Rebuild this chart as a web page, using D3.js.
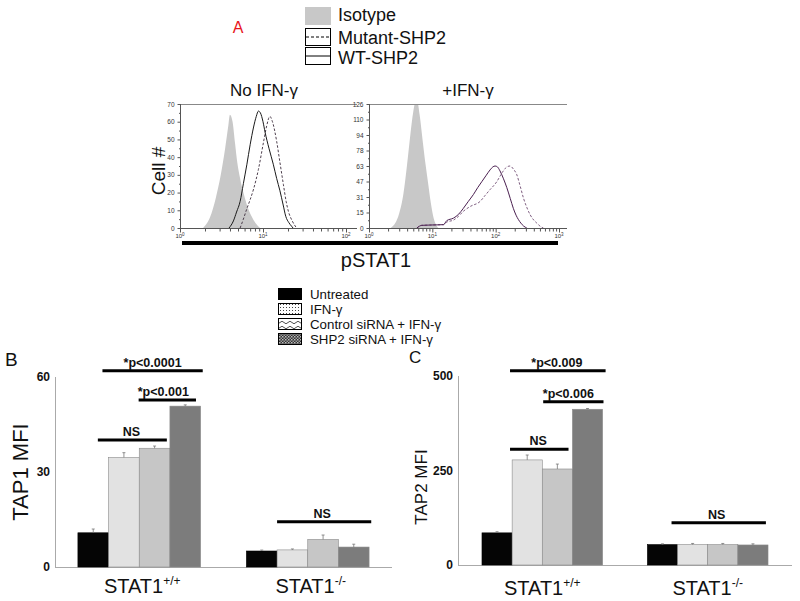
<!DOCTYPE html>
<html><head><meta charset="utf-8">
<script src="https://cdn.jsdelivr.net/npm/d3@7"></script>
<style>body{margin:0;background:#fff} svg{display:block;font-family:"Liberation Sans",Arial,sans-serif}</style>
</head><body><svg id="c" width="800" height="601"></svg>
<script>
// ---------------- data ----------------
const histLegend = ["Isotype", "Mutant-SHP2", "WT-SHP2"];
const panelTitles = ["No IFN-\u03b3", "+IFN-\u03b3"];
// panel 1 (No IFN-γ): [fluorescence, cell count]
const iso1 = [[1.9,0],[2.3,6],[2.7,17],[3.1,30],[3.5,45],[3.8,57],[4.0,64],[4.3,60],[4.6,48],[4.9,37],[5.3,28],[5.8,20],[6.4,13],[7.2,7],[8.2,2.5],[9.2,0]];
const wt1 = [[3.9,0],[4.4,4],[4.8,9],[5.3,15],[5.8,25],[6.4,36],[7.0,47],[7.7,57],[8.3,63],[8.8,66],[9.3,65],[10.0,60],[10.6,54],[11.8,45],[13.3,36],[14.6,28],[16.0,21],[17.5,13],[18.8,6.6],[20.5,3],[22.1,1],[23,0]];
const mut1 = [[5.3,0],[5.8,5],[6.4,11],[7.0,16],[7.7,22],[8.8,33],[10.1,48],[11.0,57],[12.1,63],[13.0,60],[14.6,49],[16.0,37],[17.6,24.6],[19.0,15],[20.2,9.5],[22.5,4],[25.4,0]];
// panel 2 (+IFN-γ)
const iso2 = [[2.2,0],[2.6,5],[3.0,15],[3.5,35],[4.0,65],[4.5,95],[5.0,118],[5.4,128],[5.8,128],[6.3,115],[7.0,90],[7.8,65],[8.6,45],[9.5,25],[10.5,10],[11.5,3],[12.5,0]];
const wt2 = [[5.7,0],[6.8,2.7],[9,3],[12,3.2],[15,3.4],[16.9,7.5],[21.5,10],[26,14],[30.9,20],[37,27],[44.5,34],[52,41],[60.3,47],[70,53],[81.5,59],[90,62],[97.8,63],[107,62],[117,58],[133,50],[150,41],[170,30],[190,20],[210,13],[229,8.5],[250,5],[276,2],[310,0]];
const mut2 = [[5.7,0],[6.8,2.7],[9,3],[12,3.2],[15,3.4],[16.9,6],[21.5,8],[26,12],[30.9,17],[40,22],[56.8,27],[68,33],[81.5,39],[93,43],[104,47],[118,53],[132,58],[150,62],[169,63],[190,60],[216,54],[245,42],[276,30],[310,21],[350,13.5],[400,8],[446,5],[500,2],[535,0.7],[566,0]];
const yTicks1 = [0,10,20,30,40,50,60,70];
const yTicks2Labels = ["0","15","31","47","63","78","94","110","126"];

const groups = ["STAT1+/+", "STAT1-/-"];
const groupBase = ["STAT1", "STAT1"];
const groupSup = ["+/+", "-/-"];
const treatments = ["Untreated", "IFN-\u03b3", "Control siRNA + IFN-\u03b3", "SHP2 siRNA + IFN-\u03b3"];
const tap1 = [[10.8, 34.6, 37.5, 50.8], [5.05, 5.4, 8.7, 6.3]];
const tap1Err = [[1.2, 1.5, 0.7, 0.4], [0.3, 0.3, 1.4, 0.9]];
const tap2 = [[85, 278, 254, 412], [54, 54, 54, 53]];
const tap2Err = [[3, 13, 13, 2], [2, 3, 3, 3]];
const tap1Ticks = [0, 30, 60];
const tap2Ticks = [0, 250, 500];
const sigB = [
  {label:"*p<0.0001", g:0, v:62},
  {label:"*p<0.001", g:0, v:52.7},
  {label:"NS", g:0, v:40.1},
  {label:"NS", g:1, v:14.3}];
const sigC = [
  {label:"*p<0.009", g:0, v:514},
  {label:"*p<0.006", g:0, v:432},
  {label:"NS", g:0, v:306},
  {label:"NS", g:1, v:112}];

// ---------------- drawing ----------------
const svg = d3.select("#c");
const defs = svg.append("defs");
// patterns for bar legend
const pDots = defs.append("pattern").attr("id","dots").attr("width",3).attr("height",3).attr("patternUnits","userSpaceOnUse");
pDots.append("rect").attr("width",3).attr("height",3).attr("fill","#fff");
pDots.append("rect").attr("x",1).attr("y",1).attr("width",1).attr("height",1).attr("fill","#444");
const pWave = defs.append("pattern").attr("id","wave").attr("width",8).attr("height",5).attr("patternUnits","userSpaceOnUse");
pWave.append("rect").attr("width",8).attr("height",5).attr("fill","#fff");
pWave.append("path").attr("d","M0,2.5 Q2,0 4,2.5 T8,2.5").attr("fill","none").attr("stroke","#222").attr("stroke-width",0.8);
const pChk = defs.append("pattern").attr("id","chk").attr("width",3).attr("height",3).attr("patternUnits","userSpaceOnUse");
pChk.append("rect").attr("width",3).attr("height",3).attr("fill","#333");
pChk.append("rect").attr("x",0).attr("y",0).attr("width",1.5).attr("height",1.5).attr("fill","#bbb");
pChk.append("rect").attr("x",1.5).attr("y",1.5).attr("width",1.5).attr("height",1.5).attr("fill","#999");

// "A"
svg.append("text").attr("x",238).attr("y",33).attr("text-anchor","middle").attr("font-size",16).attr("fill","#e8141b").text("A");

// histogram legend
const hl = svg.append("g");
const hlY = [7, 28, 47];
hl.append("rect").attr("x",305).attr("y",hlY[0]).attr("width",26).attr("height",18).attr("fill","#c8c8c8");
hl.append("rect").attr("x",305.5).attr("y",hlY[1]+0.5).attr("width",25).attr("height",17).attr("fill","#fff").attr("stroke","#000");
hl.append("line").attr("x1",306).attr("x2",330).attr("y1",hlY[1]+9).attr("y2",hlY[1]+9).attr("stroke","#000").attr("stroke-dasharray","3,2");
hl.append("rect").attr("x",305.5).attr("y",hlY[2]+0.5).attr("width",25).attr("height",17).attr("fill","#fff").attr("stroke","#000");
hl.append("line").attr("x1",306).attr("x2",330).attr("y1",hlY[2]+9).attr("y2",hlY[2]+9).attr("stroke","#000");
hl.selectAll("text.hl").data(histLegend).join("text").attr("class","hl")
  .attr("x",338).attr("y",(d,i)=>[21,44,64][i]).attr("font-size",18).attr("fill","#111").text(d=>d);

// histogram panels
const yTop = 104, yBot = 228;
function histPanel(cfg) {
  const g = svg.append("g");
  const x = d3.scaleLog().domain(cfg.domain).range(cfg.range);
  const y = d3.scaleLinear().domain([0, cfg.ymax]).range([yBot, yTop]);
  const cid = "clip" + cfg.id;
  defs.append("clipPath").attr("id",cid).append("rect").attr("x",cfg.range[0]).attr("y",yTop).attr("width",cfg.end-cfg.range[0]).attr("height",yBot-yTop);
  const line = d3.line().x(d=>x(d[0])).y(d=>y(d[1])).curve(d3.curveMonotoneX);
  const area = d3.area().x(d=>x(d[0])).y0(yBot).y1(d=>y(d[1])).curve(d3.curveMonotoneX);
  const pg = g.append("g").attr("clip-path",`url(#${cid})`);
  pg.append("path").datum(cfg.iso).attr("d",area).attr("fill","#c8c8c8");
  pg.append("path").datum(cfg.mut).attr("d",line).attr("fill","none").attr("stroke",cfg.mutColor).attr("stroke-width",0.9).attr("stroke-dasharray","2.5,1.8");
  pg.append("path").datum(cfg.wt).attr("d",line).attr("fill","none").attr("stroke",cfg.wtColor).attr("stroke-width",1);
  // frame lines
  g.append("line").attr("x1",cfg.range[0]).attr("x2",cfg.end).attr("y1",yTop+0.5).attr("y2",yTop+0.5).attr("stroke","#888");
  g.append("line").attr("x1",cfg.range[0]).attr("x2",cfg.end).attr("y1",yBot+0.5).attr("y2",yBot+0.5).attr("stroke","#555");
  g.append("line").attr("x1",cfg.range[0]+0.5).attr("x2",cfg.range[0]+0.5).attr("y1",yTop).attr("y2",yBot).attr("stroke","#555");
  // y ticks
  const ya = g.append("g").attr("transform",`translate(${cfg.range[0]+0.5},0)`)
    .call(d3.axisLeft(y).tickValues(cfg.yTicks).tickSize(3).tickFormat((d,i)=>cfg.yLabels[i]));
  ya.select(".domain").remove();
  ya.selectAll("line").attr("stroke","#555");
  ya.selectAll("text").attr("font-size",6.5).attr("fill","#333").attr("font-family","Liberation Sans, Arial, sans-serif");
  // minor y ticks
  const ym = g.append("g").attr("transform",`translate(${cfg.range[0]+0.5},0)`)
    .call(d3.axisLeft(y).tickValues(d3.pairs(cfg.yTicks).map(p=>(p[0]+p[1])/2)).tickSize(1.5).tickFormat(""));
  ym.select(".domain").remove(); ym.selectAll("line").attr("stroke","#555");
  // x ticks
  const minors = x.ticks().filter(v=>Math.abs(Math.log10(v)-Math.round(Math.log10(v)))>1e-6);
  const xm = g.append("g").attr("transform",`translate(0,${yBot+0.5})`)
    .call(d3.axisBottom(x).tickValues(minors).tickSize(3).tickFormat(""));
  xm.select(".domain").remove(); xm.selectAll("line").attr("stroke","#555");
  const majors = cfg.majors;
  const xM = g.append("g").attr("transform",`translate(0,${yBot+0.5})`)
    .call(d3.axisBottom(x).tickValues(majors).tickSize(4).tickFormat(""));
  xM.select(".domain").remove(); xM.selectAll("line").attr("stroke","#555");
  const lab = g.selectAll("text.xl").data(majors).join("text").attr("class","xl")
    .attr("x",d=>x(d)).attr("y",yBot+10).attr("text-anchor","middle").attr("font-size",6).attr("fill","#333");
  lab.append("tspan").text("10");
  lab.append("tspan").attr("dy",-2.5).attr("font-size",4.5).text(d=>Math.round(Math.log10(d)));
  // title
  svg.append("text").attr("x",cfg.titleX).attr("y",96).attr("text-anchor","middle").attr("font-size",17).attr("fill","#111").text(cfg.title);
}
histPanel({id:1, domain:[1,100], range:[180,346], end:357, ymax:70, iso:iso1, wt:wt1, mut:mut1,
  yTicks:yTicks1, yLabels:yTicks1.map(String), majors:[1,10,100], wtColor:"#1a1a1a", mutColor:"#3a2a3a",
  title:panelTitles[0], titleX:264});
histPanel({id:2, domain:[1,1000], range:[369,559], end:567, ymax:126, iso:iso2, wt:wt2, mut:mut2,
  yTicks:yTicks2Labels.map((d,i)=>i*126/8), yLabels:yTicks2Labels, majors:[1,10,100,1000], wtColor:"#4a1f50", mutColor:"#6e4a70",
  title:panelTitles[1], titleX:468});
// Cell # label
svg.append("text").attr("transform","translate(165,171) rotate(-90)").attr("text-anchor","middle").attr("font-size",19).attr("fill","#111").text("Cell #");
// thick bar and pSTAT1
svg.append("rect").attr("x",182).attr("y",241).attr("width",376).attr("height",4).attr("fill","#000");
svg.append("text").attr("x",376).attr("y",267).attr("text-anchor","middle").attr("font-size",20).attr("fill","#111").text("pSTAT1");

// bar legend
const fills = ["#050505","#e2e2e2","#c6c6c6","#7c7c7c"];
const swatchFill = ["#000","url(#dots)","url(#wave)","url(#chk)"];
const bl = svg.append("g");
bl.selectAll("rect").data(treatments).join("rect")
  .attr("x",278.5).attr("y",(d,i)=>288.5+i*15).attr("width",23).attr("height",11)
  .attr("fill",(d,i)=>swatchFill[i]).attr("stroke","#000").attr("stroke-width",1);
bl.selectAll("text").data(treatments).join("text")
  .attr("x",310).attr("y",(d,i)=>298.5+i*15).attr("font-size",13.3).attr("fill","#111").text(d=>d);

// bar charts
function barPanel(cfg) {
  const g = svg.append("g");
  const x0 = d3.scaleBand().domain(groups).range(cfg.xr).paddingInner(cfg.pi).paddingOuter(cfg.po);
  const x1 = d3.scaleBand().domain(treatments).range([0, x0.bandwidth()]);
  const y = d3.scaleLinear().domain([0, cfg.ymax]).range(cfg.yr);
  // axes
  g.append("line").attr("x1",cfg.xr[0]).attr("x2",cfg.xr[1]).attr("y1",cfg.yr[0]+0.5).attr("y2",cfg.yr[0]+0.5).attr("stroke","#aaa");
  g.append("line").attr("x1",cfg.xr[0]+0.5).attr("x2",cfg.xr[0]+0.5).attr("y1",cfg.yr[1]).attr("y2",cfg.yr[0]).attr("stroke","#aaa");
  const ya = g.append("g").attr("transform",`translate(${cfg.xr[0]},0)`)
    .call(d3.axisLeft(y).tickValues(cfg.ticks).tickSize(0).tickPadding(5));
  ya.select(".domain").remove();
  ya.selectAll("text").attr("font-size",12).attr("font-weight","bold").attr("fill","#111").attr("font-family","Liberation Sans, Arial, sans-serif");
  // bars
  groups.forEach((grp, gi) => {
    const gg = g.append("g").attr("transform",`translate(${x0(grp)},0)`);
    gg.selectAll("rect").data(cfg.values[gi]).join("rect")
      .attr("x",(d,i)=>x1(treatments[i])).attr("y",d=>y(d))
      .attr("width",x1.bandwidth()).attr("height",d=>y(0)-y(d))
      .attr("fill",(d,i)=>fills[i]).attr("stroke",(d,i)=>i===0?"#000":"#8a8a8a").attr("stroke-width",0.6);
    gg.selectAll("line.err").data(cfg.values[gi]).join("line").attr("class","err")
      .attr("x1",(d,i)=>x1(treatments[i])+x1.bandwidth()/2).attr("x2",(d,i)=>x1(treatments[i])+x1.bandwidth()/2)
      .attr("y1",d=>y(d)).attr("y2",(d,i)=>y(d+cfg.errs[gi][i])).attr("stroke","#777").attr("stroke-width",0.8);
    gg.selectAll("line.cap").data(cfg.values[gi]).join("line").attr("class","cap")
      .attr("x1",(d,i)=>x1(treatments[i])+x1.bandwidth()/2-1.5).attr("x2",(d,i)=>x1(treatments[i])+x1.bandwidth()/2+1.5)
      .attr("y1",(d,i)=>y(d+cfg.errs[gi][i])).attr("y2",(d,i)=>y(d+cfg.errs[gi][i])).attr("stroke","#777").attr("stroke-width",0.8);
    // group label
    const t = g.append("text").attr("x",x0(grp)+x0.bandwidth()/2+cfg.labDx).attr("y",cfg.labY).attr("text-anchor","middle").attr("font-size",20).attr("fill","#111");
    t.append("tspan").text(groupBase[gi]);
    t.append("tspan").attr("dy",-8).attr("font-size",12).text(groupSup[gi]);
  });
  // significance brackets: span given in bar units
  cfg.sig.forEach((s, k) => {
    const span = cfg.spans[k];
    const bw = x1.bandwidth();
    const gx = x0(groups[s.g]);
    const xa = gx + span[0]*bw, xb = gx + span[1]*bw;
    g.append("line").attr("x1",xa).attr("x2",xb).attr("y1",y(s.v)).attr("y2",y(s.v)).attr("stroke","#000").attr("stroke-width",3);
    g.append("text").attr("x",(xa+xb)/2+cfg.sigDx[k]).attr("y",y(s.v)-4).attr("text-anchor","middle")
      .attr("font-size",12.5).attr("font-weight","bold").attr("fill","#111").text(s.label);
  });
  g.append("text").attr("transform",`translate(${cfg.ylabX},${cfg.ylabY}) rotate(-90)`).attr("text-anchor","middle")
    .attr("font-size",cfg.ylabSize).attr("fill","#111").text(cfg.ylab);
  svg.append("text").attr("x",cfg.letterX).attr("y",cfg.letterY).attr("font-size",cfg.letterSize).attr("fill","#111").text(cfg.letter);
}
barPanel({xr:[55,392], pi:0.272, po:0.136, yr:[567,377], ymax:60, ticks:tap1Ticks, values:tap1, errs:tap1Err,
  sig:sigB, spans:[[0.8,4.07],[1.98,3.85],[0.65,2.9],[1.0,4.07]], sigDx:[0,-4,-1,-2], labY:593, labDx:3,
  ylab:"TAP1 MFI", ylabX:28, ylabY:472, ylabSize:22, letter:"B", letterX:5, letterY:366, letterSize:19});
barPanel({xr:[458,792], pi:0.271, po:0.145, yr:[565,376], ymax:500, ticks:tap2Ticks, values:tap2, errs:tap2Err,
  sig:sigC, spans:[[0.93,4.1],[2.03,4.03],[0.93,2.87],[0.8,3.93]], sigDx:[-1,-5,-1,-2], labY:595, labDx:0,
  ylab:"TAP2 MFI", ylabX:427, ylabY:487, ylabSize:17, letter:"C", letterX:409, letterY:363, letterSize:17});
</script></body></html>
